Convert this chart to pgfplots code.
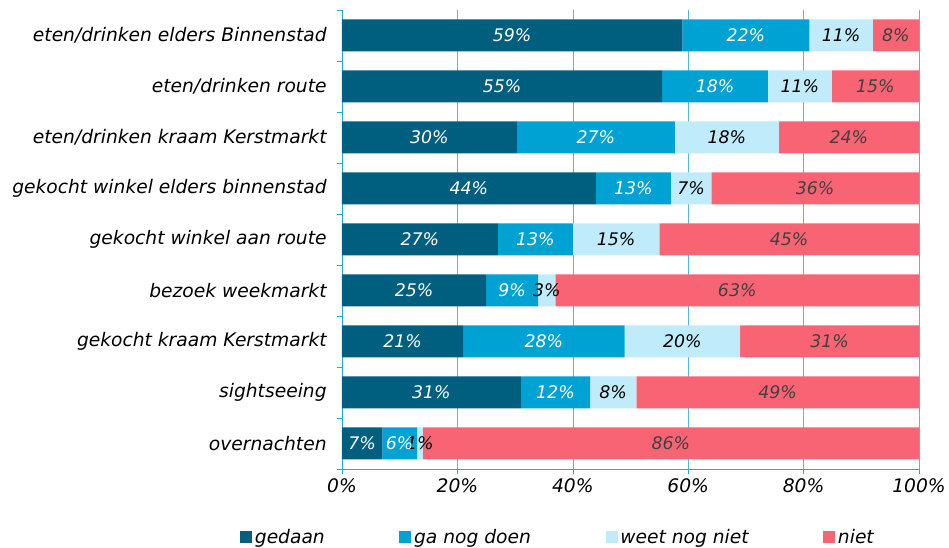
\documentclass[border=0pt]{standalone}
\usepackage{pgfplots}
\pgfplotsset{compat=1.18}
\usepackage{fontspec}
\setmainfont{DejaVu Sans}
\definecolor{gedaan}{HTML}{005E7E}
\definecolor{ganog}{HTML}{00A2D3}
\definecolor{weetnog}{HTML}{BFEBFA}
\definecolor{niet}{HTML}{F96474}
\definecolor{axblue}{HTML}{24A7DC}

\begin{document}
\begin{tikzpicture}
\begin{axis}[name=ax, scale only axis, width=432.75pt, height=344.25pt,
  xbar stacked, bar width=24pt,
  xmin=0, xmax=100, ymin=-0.5, ymax=8.5, enlargelimits=false,
  axis x line*=bottom, axis y line*=left, axis line style={axblue},
  tick align=outside, major tick length=4pt, tick style={axblue, thin},
  xtick={0,20,...,100}, xticklabels={0\%,20\%,40\%,60\%,80\%,100\%},
  xmajorgrids, grid style={axblue!80, thin},
  ytick={-0.5,0.5,...,8.5}, yticklabels={},
  extra y ticks={0,...,8},
  extra y tick labels={overnachten, sightseeing, gekocht kraam Kerstmarkt, bezoek weekmarkt,
    gekocht winkel aan route, gekocht winkel elders binnenstad, eten/drinken kraam Kerstmarkt,
    eten/drinken route, eten/drinken elders Binnenstad},
  extra y tick style={major tick length=0pt, grid=none},
  ticklabel style={font=\fontsize{14}{16}\selectfont\itshape},
  yticklabel style={xshift=-8pt},
  point meta=explicit symbolic,
  nodes near coords={\pgfplotspointmeta\%},
  every node near coord/.append style={anchor=center, font=\fontsize{13}{15}\selectfont\itshape},
  legend style={at={(-0.1768,-0.125)}, anchor=north west, draw=none, fill=none, inner sep=0pt,
    legend columns=4, font=\fontsize{14}{16}\selectfont\itshape,
    /tikz/every even column/.append style={column sep=54pt}},
  legend image code/.code={\fill[#1] (0pt,-4pt) rectangle (9pt,5pt);},
]
\addplot[fill=gedaan, draw=none, every node near coord/.append style={text=white}] coordinates {
  (7,0)[7] (31,1)[31] (21,2)[21] (25,3)[25] (27,4)[27] (44,5)[44] (30.3,6)[30] (55.5,7)[55] (59,8)[59]};
\addlegendentry{gedaan}
\addplot[fill=ganog, draw=none, every node near coord/.append style={text=white}] coordinates {
  (6,0)[6] (12,1)[12] (28,2)[28] (9,3)[9] (13,4)[13] (13,5)[13] (27.4,6)[27] (18.3,7)[18] (22,8)[22]};
\addlegendentry{ga nog doen}
\addplot[fill=weetnog, draw=none, every node near coord/.append style={text=black}] coordinates {
  (1,0)[1] (8,1)[8] (20,2)[20] (3,3)[3] (15,4)[15] (7,5)[7] (18,6)[18] (11.1,7)[11] (11,8)[11]};
\addlegendentry{weet nog niet}
\addplot[fill=niet, draw=none, every node near coord/.append style={text=black!75}] coordinates {
  (86,0)[86] (49,1)[49] (31,2)[31] (63,3)[63] (45,4)[45] (36,5)[36] (24.3,6)[24] (15.1,7)[15] (8,8)[8]};
\addlegendentry{niet}
\end{axis}
\pgfresetboundingbox
\useasboundingbox ([xshift=-256.5pt,yshift=-59.25pt]ax.south west) rectangle ([xshift=22.5pt,yshift=7.5pt]ax.north east);
\end{tikzpicture}
\end{document}
